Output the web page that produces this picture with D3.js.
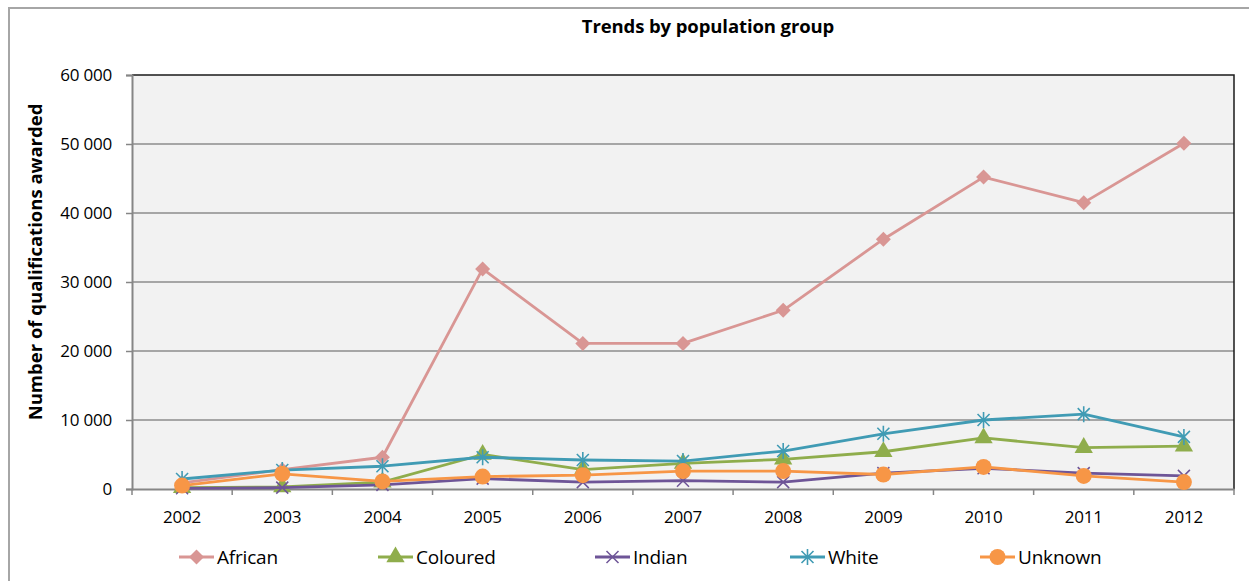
<!DOCTYPE html>
<html>
<head>
<meta charset="utf-8">
<script src="https://cdn.jsdelivr.net/npm/d3@7"></script>
<style>
  html, body { margin: 0; padding: 0; background: #ffffff; }
  svg { display: block; font-family: "Open Sans", Lato, sans-serif; }
</style>
</head>
<body>
<svg id="chart" width="1249" height="581"></svg>
<script>
// Years on the category axis
const years = ["2002", "2003", "2004", "2005", "2006", "2007", "2008", "2009", "2010", "2011", "2012"];

// Qualifications awarded per population group
const african  = [900, 2800, 4600, 31900, 21100, 21100, 25900, 36200, 45200, 41500, 50100];
const coloured = [200, 300, 1000, 5000, 2800, 3700, 4300, 5400, 7400, 6000, 6200];
const indian   = [100, 200, 600, 1500, 1000, 1200, 1000, 2300, 3000, 2300, 1900];
const white    = [1450, 2750, 3300, 4600, 4200, 4050, 5500, 8000, 10000, 10850, 7550];
const unknown  = [500, 2200, 1100, 1800, 2000, 2600, 2600, 2100, 3200, 1900, 1000];

const yTicks = [0, 10000, 20000, 30000, 40000, 50000, 60000];

const series = [
  { name: "African",  values: african,  color: "#D99694", marker: "diamond" },
  { name: "Coloured", values: coloured, color: "#8FAD4C", marker: "triangle" },
  { name: "Indian",   values: indian,   color: "#6E5597", marker: "cross" },
  { name: "White",    values: white,    color: "#409BB4", marker: "star" },
  { name: "Unknown",  values: unknown,  color: "#F79646", marker: "circle" }
];

const svg = d3.select("#chart");
const plot = { left: 132, right: 1234, top: 75, bottom: 489 };

// Outer chart frame
svg.append("path")
  .attr("d", "M9,581 V8 H1249")
  .attr("fill", "none")
  .attr("stroke", "#A6A6A6")
  .attr("stroke-width", 2);

// Title
svg.append("text")
  .attr("x", 708).attr("y", 33)
  .attr("text-anchor", "middle")
  .attr("font-size", 18.5).attr("font-weight", "bold")
  .attr("letter-spacing", -0.1)
  .text("Trends by population group");

const x = d3.scaleBand().domain(years).range([plot.left, plot.right]);
const y = d3.scaleLinear().domain([0, 60000]).range([plot.bottom, plot.top]);

// Plot background
svg.append("rect")
  .attr("x", plot.left).attr("y", plot.top)
  .attr("width", plot.right - plot.left).attr("height", plot.bottom - plot.top)
  .attr("fill", "#F2F2F2");

// Horizontal gridlines
svg.append("g").selectAll("line")
  .data(yTicks.filter(d => d > 0 && d < 60000))
  .join("line")
  .attr("x1", plot.left).attr("x2", plot.right)
  .attr("y1", d => y(d)).attr("y2", d => y(d))
  .attr("stroke", "#8C8C8C").attr("stroke-width", 1.5);

// Top and right plot border
svg.append("path")
  .attr("d", `M${plot.left},${plot.top} H${plot.right} V${plot.bottom}`)
  .attr("fill", "none").attr("stroke", "#1A1A1A").attr("stroke-width", 1.5);

// Y axis with space-separated thousands
const yAxis = svg.append("g")
  .attr("transform", `translate(${plot.left},0)`)
  .call(d3.axisLeft(y).tickValues(yTicks).tickSize(6).tickPadding(14)
    .tickFormat(d => d3.format(",")(d).replace(/,/g, " ")));
yAxis.select(".domain").attr("stroke", "#868686").attr("stroke-width", 2);
yAxis.selectAll(".tick line").attr("stroke", "#868686").attr("stroke-width", 1.5);
yAxis.selectAll(".tick text").attr("font-size", 17).attr("fill", "#000")
  .attr("font-family", "'Open Sans', Lato, sans-serif").attr("letter-spacing", -0.2);

// X axis: ticks sit on category boundaries
const xAxis = svg.append("g")
  .attr("transform", `translate(0,${plot.bottom})`)
  .call(d3.axisBottom(x).tickSize(0).tickPadding(22));
xAxis.select(".domain").attr("stroke", "#868686").attr("stroke-width", 2);
xAxis.selectAll(".tick text").attr("font-size", 17).attr("fill", "#000")
  .attr("font-family", "'Open Sans', Lato, sans-serif").attr("letter-spacing", -0.2);
const bounds = years.map(d => x(d)).concat([x(years[years.length - 1]) + x.bandwidth()]);
svg.append("g").selectAll("line")
  .data(bounds)
  .join("line")
  .attr("x1", d => d).attr("x2", d => d)
  .attr("y1", plot.bottom).attr("y2", plot.bottom + 6)
  .attr("stroke", "#868686").attr("stroke-width", 1.5);

// Y axis title
svg.append("text")
  .attr("transform", "translate(42,262) rotate(-90)")
  .attr("text-anchor", "middle")
  .attr("font-size", 18.5).attr("font-weight", "bold")
  .text("Number of qualifications awarded");

// Marker drawing
function drawMarker(g, type, color) {
  if (type === "diamond") {
    g.append("path").attr("d", "M0,-7.5 L7.5,0 L0,7.5 L-7.5,0 Z").attr("fill", color);
  } else if (type === "triangle") {
    g.append("path").attr("d", d3.symbol(d3.symbolTriangle, 145)()).attr("fill", color);
  } else if (type === "cross") {
    g.append("path").attr("d", "M-6,-6 L6,6 M-6,6 L6,-6")
      .attr("stroke", color).attr("stroke-width", 1.5).attr("fill", "none");
  } else if (type === "star") {
    g.append("path").attr("d", "M-6,-6 L6,6 M-6,6 L6,-6 M0,-8 L0,8")
      .attr("stroke", color).attr("stroke-width", 1.6).attr("fill", "none");
  } else if (type === "circle") {
    g.append("circle").attr("r", 8).attr("fill", color);
  }
}

const cx = d => x(d) + x.bandwidth() / 2;
const line = d3.line().x((v, i) => cx(years[i])).y(v => y(v));

series.forEach(s => {
  const g = svg.append("g");
  g.append("path")
    .attr("d", line(s.values))
    .attr("fill", "none")
    .attr("stroke", s.color)
    .attr("stroke-width", 2.8)
    .attr("stroke-linejoin", "round");
  s.values.forEach((v, i) => {
    const m = g.append("g").attr("transform", `translate(${cx(years[i])},${y(v)})`);
    drawMarker(m, s.marker, s.color);
  });
});

// Legend
const legendX = [179, 378, 595, 790, 980];
series.forEach((s, i) => {
  const g = svg.append("g").attr("transform", `translate(${legendX[i]},557)`);
  g.append("line").attr("x1", 0).attr("x2", 35).attr("y1", 0).attr("y2", 0)
    .attr("stroke", s.color).attr("stroke-width", 2.8);
  const m = g.append("g").attr("transform", "translate(17.5,0)");
  drawMarker(m, s.marker, s.color);
  g.append("text").attr("x", 38).attr("y", 7)
    .attr("font-size", 19).attr("fill", "#000")
    .attr("letter-spacing", -0.2)
    .text(s.name);
});
</script>
</body>
</html>
